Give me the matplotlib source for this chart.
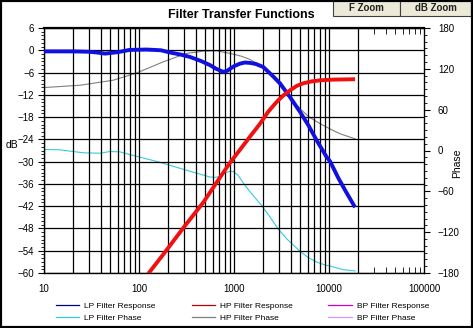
import numpy as np
import matplotlib.pyplot as plt
from matplotlib.patches import Rectangle
from matplotlib.ticker import MultipleLocator, FixedLocator, NullFormatter

plt.rcParams['font.family'] = ['Liberation Sans', 'DejaVu Sans']

# LP filter response (dB)
lp_f = [10, 20, 30, 36, 44, 60, 80, 120, 170, 212, 280, 344, 450, 559, 650, 720, 771,
        840, 907, 1000, 1156, 1300, 1473, 1700, 2032, 2574, 3050, 3882, 4955, 6000,
        7430, 9460, 10250, 12530, 15000, 18800]
lp_db = [-0.3, -0.3, -0.4, -0.6, -0.9, -0.5, 0.1, 0.2, 0.0, -0.6, -1.2, -1.8, -2.9,
         -4.0, -5.0, -5.5, -5.8, -5.6, -5.0, -4.3, -3.6, -3.3, -3.4, -3.7, -4.5,
         -7.0, -8.9, -12.6, -16.6, -20.0, -24.3, -28.8, -29.9, -34.4, -38.0, -42.3]

# HP filter response (dB)
hp_f = [125, 180, 300, 475, 657, 907, 1156, 1500, 1877, 2300, 2814, 3300, 3882,
        4570, 5357, 6500, 8035, 11090, 18800]
hp_db = [-60.2, -55, -47.5, -41, -35.6, -30.3, -26.8, -23, -19.8, -16.5, -13.9, -12.2,
         -10.8, -9.6, -8.9, -8.4, -8.1, -7.9, -7.8]

# LP filter phase (deg)
lpp_f = [10, 14.7, 26, 38.8, 49.5, 63, 80, 153, 292, 559, 640, 712, 800, 907, 984,
         1100, 1254, 1500, 1958, 2400, 2926, 3600, 4955, 6000, 7430, 9000, 11090,
         14000, 18800]
lpp_deg = [1.5, 1, -3.4, -4, -1.5, -2, -6, -16, -27.6, -39, -39.5, -38, -33, -30.5,
           -31, -36, -48, -62, -81, -98, -115.6, -130, -148, -157, -164, -168, -171,
           -175, -177]

# HP filter phase (deg)
hpp_f = [10, 24, 53.6, 94.7, 180, 318, 475, 657, 907, 1200, 1473, 1877, 2400, 3050,
         3600, 4955, 6200, 8060, 10500, 13060, 18800]
hpp_deg = [92.5, 95.9, 103.3, 114, 130.3, 142.7, 146, 146.5, 142.7, 138.5, 133.8,
           125.4, 112, 95, 83, 61.5, 49, 39.4, 31, 24.6, 17.2]

grid_f = [10, 20, 30, 40, 50, 60, 70, 80, 90,
          100, 200, 300, 400, 500, 600, 700, 800, 900,
          1000, 2000, 3000, 4000, 5000, 6000, 7000, 8000, 9000,
          10000, 20000]
decades = [10, 100, 1000, 10000, 100000]

fig = plt.figure(figsize=(4.73, 3.28), dpi=100)
ax = fig.add_axes([44/473, 1-273/328, 380/473, 245/328])
ax.set_xscale('log')
ax.set_xlim(10, 100000)
ax.set_ylim(-60, 6)

ax.vlines(grid_f, -60, 6, color='black', lw=0.9, zorder=1)
ax.set_yticks(np.arange(-60, 7, 6))
ax.yaxis.set_minor_locator(MultipleLocator(1))
ax.grid(axis='y', which='major', color='black', lw=0.9)
ax.set_xticks(decades)
ax.set_xticklabels(['10', '100', '1000', '10000', '100000'])
ax.xaxis.set_minor_locator(FixedLocator([k * d for d in decades[:-1] for k in range(2, 10)]))
ax.xaxis.set_minor_formatter(NullFormatter())
ax.tick_params(axis='x', which='both', direction='in', top=True, length=0, pad=8, labelsize=7)
ax.tick_params(axis='x', which='minor', length=4)
ax.tick_params(axis='y', which='major', length=4, labelsize=7, pad=3)
ax.tick_params(axis='y', which='minor', length=2)
ax.spines['top'].set_linewidth(1.6)
for s in ['left', 'bottom', 'right']:
    ax.spines[s].set_linewidth(0.9)
ax.set_ylabel('dB', rotation=0, fontsize=7.5, labelpad=0)
ax.yaxis.set_label_coords(-0.085, 0.5)

ax2 = ax.twinx()
ax2.set_ylim(-180, 180)
ax2.set_yticks(np.arange(-180, 181, 60))
ax2.yaxis.set_minor_locator(MultipleLocator(10))
ax2.tick_params(axis='y', which='major', length=4, labelsize=7, pad=6)
ax2.tick_params(axis='y', which='minor', length=2)
ax2.set_ylabel('Phase', fontsize=7.5, labelpad=2)
ax2.yaxis.set_label_coords(1.075, 0.45)

ax2.plot(lpp_f, lpp_deg, color='#33CCDD', lw=0.8)
ax2.plot(hpp_f, hpp_deg, color='#808080', lw=0.8)
ax.set_zorder(ax2.get_zorder() + 1)
ax.patch.set_visible(False)
ax.plot(lp_f, lp_db, color='#1010E0', lw=2.8, solid_capstyle='butt', zorder=3)
ax.plot(hp_f, hp_db, color='#F01010', lw=2.8, solid_capstyle='butt', zorder=3)

# legend proxies
h_lp, = ax.plot([], [], color='#000080', lw=0.9, label='LP Filter Response')
h_lpp, = ax.plot([], [], color='#33CCDD', lw=0.9, label='LP Filter Phase')
h_hp, = ax.plot([], [], color='#C00000', lw=0.9, label='HP Filter Response')
h_hpp, = ax.plot([], [], color='#808080', lw=0.9, label='HP Filter Phase')
h_bp, = ax.plot([], [], color='#CC00CC', lw=0.9, label='BP Filter Response')
h_bpp, = ax.plot([], [], color='#CC99FF', lw=0.9, label='BP Filter Phase')
fig.legend(handles=[h_lp, h_lpp, h_hp, h_hpp, h_bp, h_bpp], ncol=3,
           loc='upper left', bbox_to_anchor=(56/473, 1-302/328), frameon=False,
           fontsize=6, handlelength=2.8, handletextpad=0.6, columnspacing=4.3,
           labelspacing=0.55, borderaxespad=0, borderpad=0)

fig.text(241/473, 1-15/328, 'Filter Transfer Functions', ha='center', va='center',
         fontsize=9, fontweight='bold')

# buttons
for x0, x1, label in [(333, 400, 'F Zoom'), (400, 471, 'dB Zoom')]:
    fig.patches.append(Rectangle((x0/473, 1-16/328), (x1-x0)/473, 17/328,
                                 transform=fig.transFigure, facecolor='#ECE9D8',
                                 edgecolor='#404040', lw=0.8))
    fig.text((x0+x1)/2/473, 1-8/328, label, ha='center', va='center',
             fontsize=7, fontweight='bold', color='#202020')

fig.patches.append(Rectangle((0, 0), 1, 1, transform=fig.transFigure,
                             facecolor='none', edgecolor='black', lw=3))

fig.savefig('out.png', dpi=100)
